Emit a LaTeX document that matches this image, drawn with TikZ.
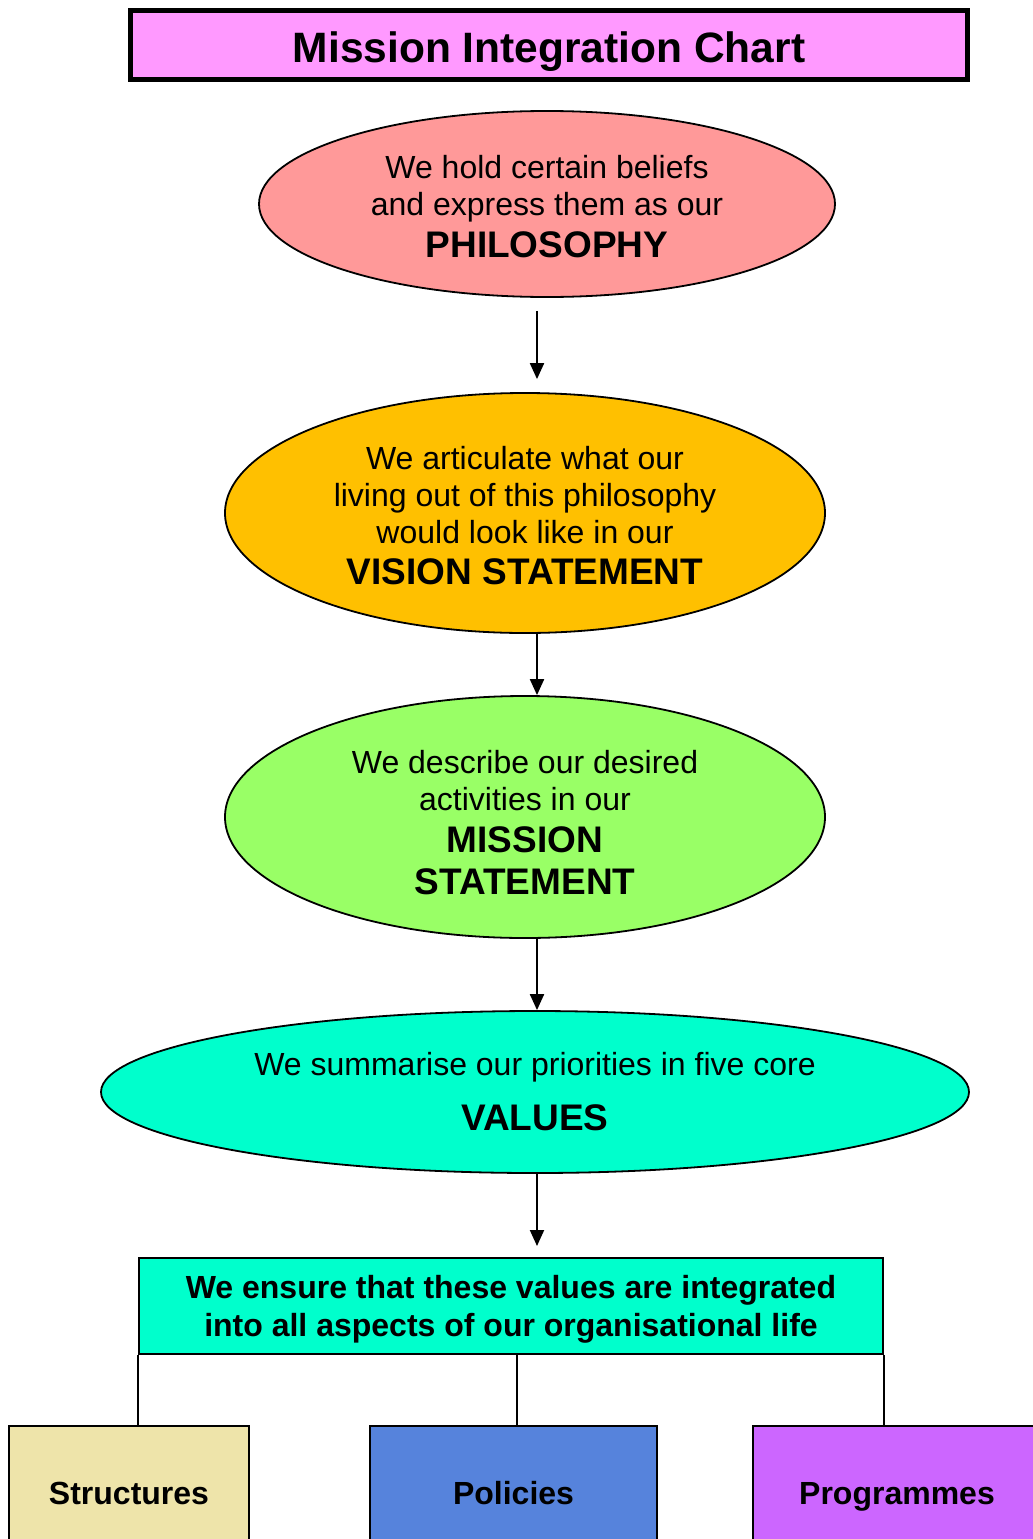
\documentclass[tikz,border=0pt]{standalone}
\usepackage{fontspec}
\setmainfont{Liberation Sans}
\usetikzlibrary{shapes.geometric,arrows.meta,calc}
\definecolor{titlepink}{HTML}{FF99FF}
\definecolor{philred}{HTML}{FF9999}
\definecolor{visorange}{HTML}{FFC000}
\definecolor{misgreen}{HTML}{99FF66}
\definecolor{valcyan}{HTML}{00FFCC}
\definecolor{strtan}{HTML}{EEE4AA}
\definecolor{polblue}{HTML}{5683DC}
\definecolor{progviolet}{HTML}{CC66FF}
\newcommand{\bigbold}[1]{{\fontsize{37}{41}\selectfont\bfseries #1}}
\begin{document}
\begin{tikzpicture}[x=1pt,y=-1pt,
  ell/.style={ellipse, draw=black, line width=1.8pt, inner sep=0pt, align=center,
    font=\fontsize{32}{37}\selectfont},
  arr/.style={-{Triangle[length=16pt,width=14pt]}, line width=2pt},
  rbox/.style={draw=black, line width=2pt, inner sep=0pt, align=center,
    font=\fontsize{32}{38}\selectfont\bfseries},
  conn/.style={line width=2pt}]
\useasboundingbox (0,0) rectangle (1033,1539);
\clip (0,0) rectangle (1033,1539);
\coordinate (ax) at (537,0);
\coordinate (mx) at (517,0);
% title
\node[draw=black, line width=5pt, fill=titlepink, minimum width=837pt, minimum height=69pt,
  inner sep=0pt, text height=34.4pt, text depth=0pt,
  font=\fontsize{42.5}{48}\selectfont\bfseries] (title) at (549,45) {Mission Integration Chart};
% ellipses
\node[ell, fill=philred, minimum width=576pt, minimum height=186pt] (phil) at (547,204)
  {\rule{0pt}{29pt}We hold certain beliefs\\and express them as our\\[5pt]\bigbold{PHILOSOPHY}};
\node[ell, fill=visorange, minimum width=600pt, minimum height=240pt] (vis) at (525,513)
  {\rule{0pt}{27.5pt}We articulate what our\\living out of this philosophy\\would look like in our\\[4pt]\bigbold{VISION STATEMENT}};
\node[ell, fill=misgreen, minimum width=600pt, minimum height=242pt] (mis) at (525,817)
  {\rule{0pt}{33.5pt}We describe our desired\\activities in our\\[5pt]\bigbold{MISSION}\\[5pt]\bigbold{STATEMENT}};
\node[ell, fill=valcyan, minimum width=868pt, minimum height=162pt] (val) at (535,1092)
  {We summarise our priorities in five core\\[18pt]\bigbold{VALUES}};
% integration box
\node[rbox, fill=valcyan, minimum width=744pt, minimum height=96pt, text depth=0pt] (ens) at (511,1306)
  {We ensure that these values are integrated\\into all aspects of our organisational life};
% bottom boxes
\node[rbox, fill=strtan, minimum width=240pt, minimum height=134pt, text height=23pt, text depth=0pt] (str) at (129,1493) {Structures};
\node[rbox, fill=polblue, minimum width=287pt, minimum height=134pt, text height=23pt, text depth=0pt] (pol) at (513.5,1493) {Policies};
\node[rbox, fill=progviolet, minimum width=288pt, minimum height=134pt, text height=23pt, text depth=0pt] (prog) at (897,1493) {Programmes};
% arrows
\draw[arr, shorten <=13pt, shorten >=13pt] (phil.south -| ax) -- (vis.north -| ax);
\draw[arr] (vis.south -| ax) -- (mis.north -| ax);
\draw[arr] (mis.south -| ax) -- (val.north -| ax);
\draw[arr, shorten >=11pt] (val.south -| ax) -- (ens.north -| ax);
% connectors
\draw[conn] (ens.south west) -- (ens.south west |- str.north);
\draw[conn] (ens.south -| mx) -- (pol.north -| mx);
\draw[conn] (ens.south east) -- (ens.south east |- prog.north);
\end{tikzpicture}
\end{document}
